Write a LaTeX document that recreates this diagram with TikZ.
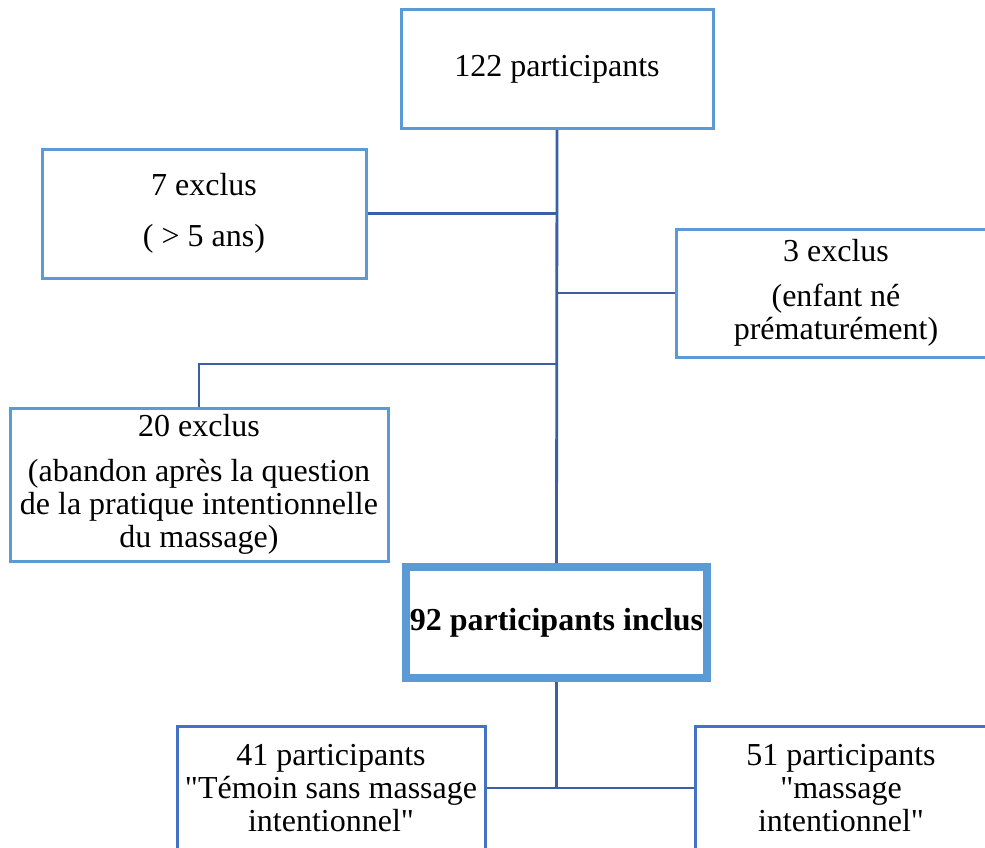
\documentclass[tikz,border=0pt]{standalone}
\usepackage{fontspec}
\setmainfont{Liberation Serif}
\usetikzlibrary{positioning}
\definecolor{boxblue}{HTML}{5B9BD5}
\definecolor{linkblue}{HTML}{3B5FA6}
\definecolor{groupblue}{HTML}{4472C4}

\begin{document}
\begin{tikzpicture}
        [x=0.5pt, y=-0.5pt,
         box/.style={draw=boxblue, line width=1.5pt, align=center, inner sep=2pt,
                     font=\fontsize{16}{16.5}\selectfont},
         groupbox/.style={box, draw=groupblue},
         mainbox/.style={box, line width=4pt, font=\fontsize{16}{16.5}\selectfont\bfseries},
         link/.style={draw=linkblue, line width=1.4pt}]
        \useasboundingbox (0,0) rectangle (985,847);

        \node[box, minimum width=156pt, minimum height=59.5pt] (total) at (557,69) {122 participants};
        \node[box, minimum width=162pt, minimum height=64.5pt] (ex7) at (204,213.5) {7 exclus\\[9pt]( > 5 ans)};
        \node[box, minimum width=160pt, minimum height=64pt] (ex3) at (836,293) {3 exclus\\[6pt](enfant né\\prématurément)};
        \node[box, minimum width=189pt, minimum height=76.5pt] (ex20) at (199,484.5)
            {20 exclus\\[6pt](abandon après la question\\de la pratique intentionnelle\\du massage)};
        \node[mainbox, minimum width=148.5pt, minimum height=55.5pt] (incl) at (556.5,622.5) {92 participants inclus};
        \node[groupbox, minimum width=154pt, minimum height=62pt] (g41) at (331,788)
            {41 participants\\\textquotedbl Témoin sans massage\\intentionnel\textquotedbl};
        \node[groupbox, minimum width=146pt, minimum height=62pt] (g51) at (841,788)
            {51 participants\\\textquotedbl massage\\intentionnel\textquotedbl};

        % branches off the main line
        \coordinate (j20) at (557,364);
        \coordinate (j92) at (incl.south |- g41.east);
        \draw[link] (total.south) -- (incl.north);
        \draw[link] (ex7.east) -- (ex7.east -| total.south);
        \draw[link] (ex3.west) -- (ex3.west -| total.south);
        \draw[link] (ex20.north) |- (j20);
        \draw[link] (incl.south) -- (j92);
        \draw[link] (g41.east) -- (g51.west);
    \end{tikzpicture}
\end{document}
